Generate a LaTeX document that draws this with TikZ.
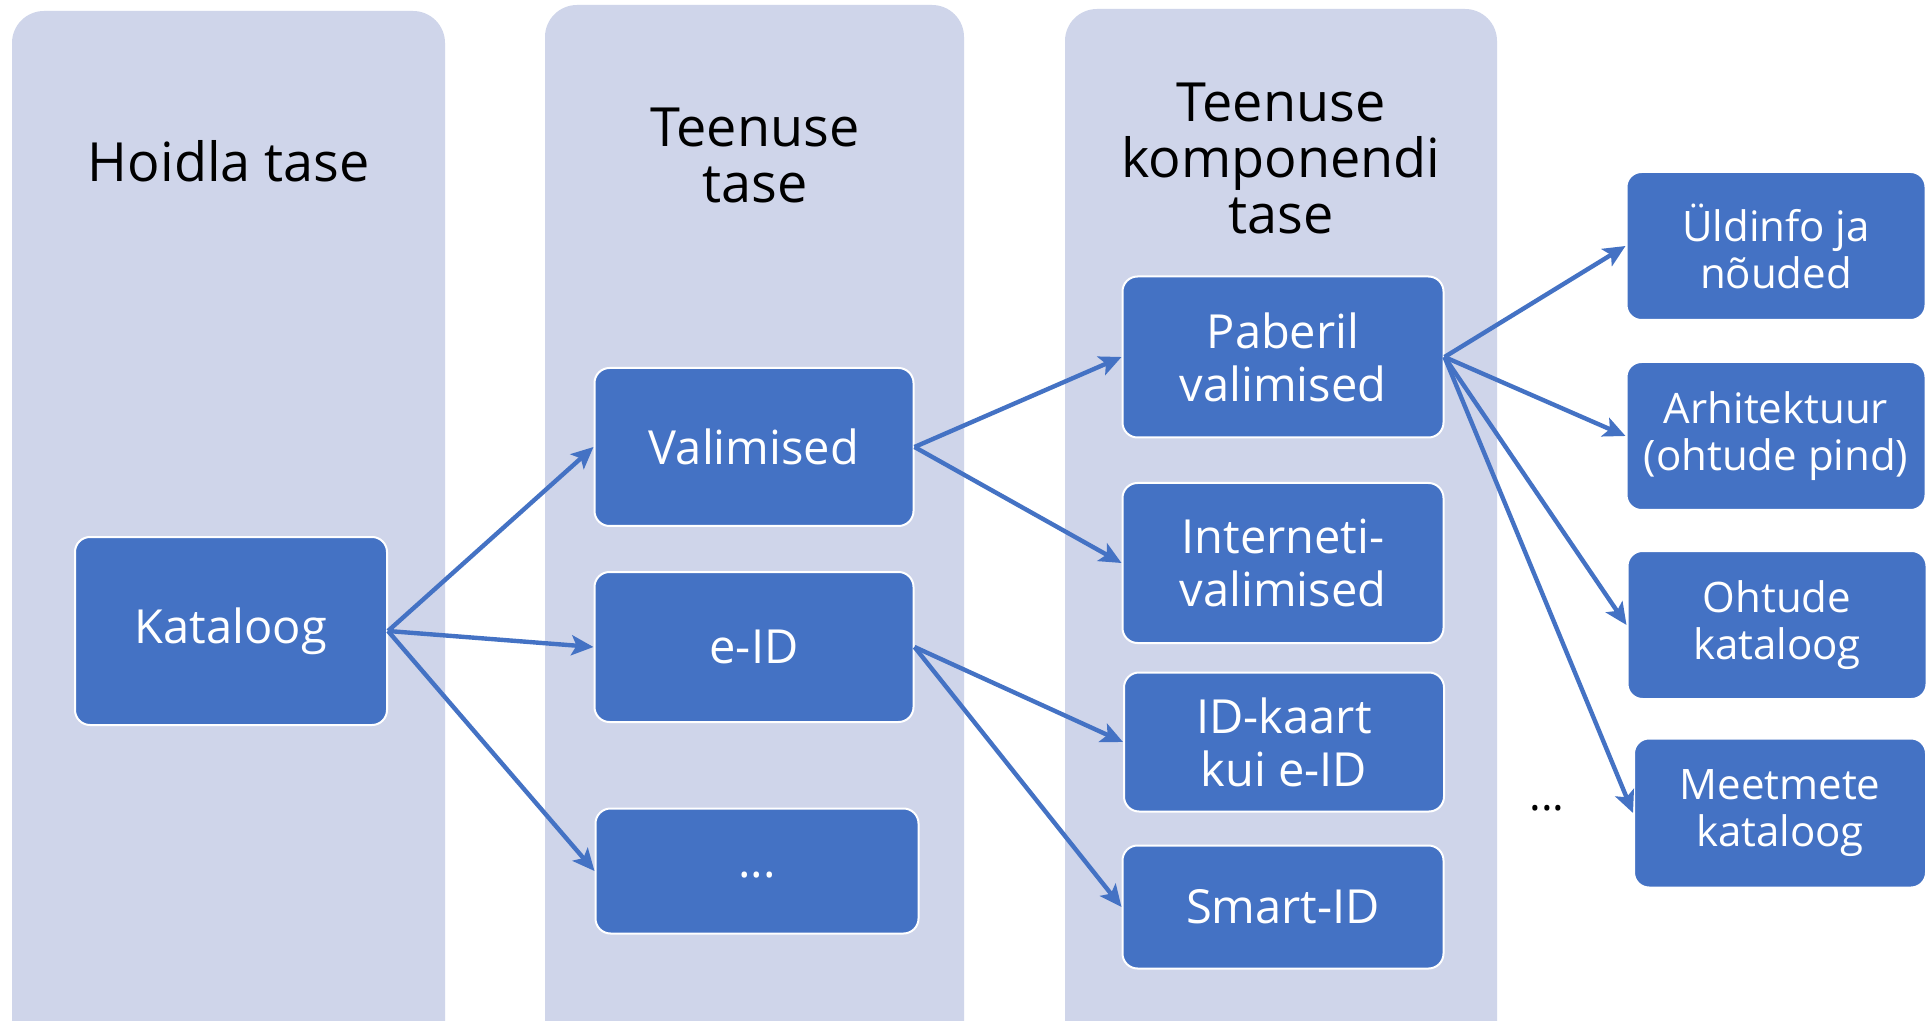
\documentclass[tikz,border=0pt]{standalone}
\usepackage{fontspec}
\setmainfont{Open Sans}
\usetikzlibrary{arrows.meta}

\definecolor{sinine}{HTML}{4472C4}
\definecolor{veerutaust}{HTML}{CFD5EA}

\tikzset{
  veerg/.style={fill=veerutaust, rounded corners=16pt},
  pealkiri/.style={align=center, font=\fontsize{27}{28}\selectfont, text=black},
  blokk/.style={draw=white, line width=1pt, fill=sinine, rounded corners=7.5pt,
    text=white, align=center, inner sep=0pt, font=\fontsize{23.5}{26.5}\selectfont},
  osa/.style={blokk, font=\fontsize{21}{23.5}\selectfont},
  nool/.style={draw=sinine, line width=2.2pt, -{Stealth[length=11pt,width=10pt,inset=2.5pt]}},
}

\begin{document}
\begin{tikzpicture}[x=0.5pt, y=-0.5pt]

  % Pildi piirid
  \clip (0,0) rectangle (1928,1021);
  \fill[white] (0,0) rectangle (1928,1021);

  % Taustaveerud
  \foreach \xa/\xb/\ya in {12/445/11, 545/964/5, 1065/1497/9} {
    \fill[veerg] (\xa,\ya) rectangle (\xb,1060);
  }

  % Veergude pealkirjad
  \node[pealkiri] (hoidla) at (229,161) {Hoidla tase};
  \node[pealkiri] (teenus) at (755,155) {Teenuse\\tase};
  \node[pealkiri] (komponent) at (1281,158) {Teenuse\\komponendi\\tase};

  % ==============================================
  % Hoidla ja teenuse tase
  % ==============================================
  \node[blokk, minimum width=156pt, minimum height=94pt] (kataloog) at (231,631) {Kataloog};
  \node[blokk, minimum width=159.5pt, minimum height=79pt] (valimised) at (754,447) {Valimised};
  \node[blokk, minimum width=159.5pt, minimum height=75pt] (eid) at (754,647) {e-ID};
  \node[blokk, minimum width=161.5pt, minimum height=62.5pt] (muud) at (757,871) {\raisebox{-3pt}[0pt][0pt]{...}};

  % ==============================================
  % Teenuse komponendi tase
  % ==============================================
  \node[blokk, minimum width=160.5pt, minimum height=80.5pt] (paberil) at (1283,357) {Paberil\\valimised};
  \node[blokk, minimum width=160.5pt, minimum height=80pt] (internet) at (1283,563) {Interneti-\\valimised};
  \node[blokk, minimum width=160pt, minimum height=69.5pt] (idkaart) at (1284,742) {ID-kaart\\kui e-ID};
  \node[blokk, minimum width=160.5pt, minimum height=61.5pt] (smartid) at (1283,907) {Smart-ID};

  % Komponendi osad
  \node[osa, minimum width=149.5pt, minimum height=74pt] (yldinfo) at (1776,246) {Üldinfo ja\\nõuded};
  \node[osa, minimum width=149.5pt, minimum height=74pt] (arhitektuur) at (1776,436) {Arhitektuur\\(ohtude pind)};
  \node[osa, minimum width=149.5pt, minimum height=74pt] (ohtude) at (1777,625) {Ohtude\\kataloog};
  \node[osa, minimum width=146pt, minimum height=74.5pt] (meetmete) at (1780,813) {Meetmete\\kataloog};
  \node[font=\fontsize{22}{24}\selectfont] (punktid) at (1547,808) {...};

  % Nooled
  \foreach \a/\b in {kataloog/valimised, kataloog/eid, kataloog/muud,
                     valimised/paberil, valimised/internet,
                     eid/idkaart, eid/smartid,
                     paberil/yldinfo, paberil/arhitektuur, paberil/ohtude, paberil/meetmete} {
    \draw[nool] (\a.east) -- (\b.west);
  }

\end{tikzpicture}
\end{document}
